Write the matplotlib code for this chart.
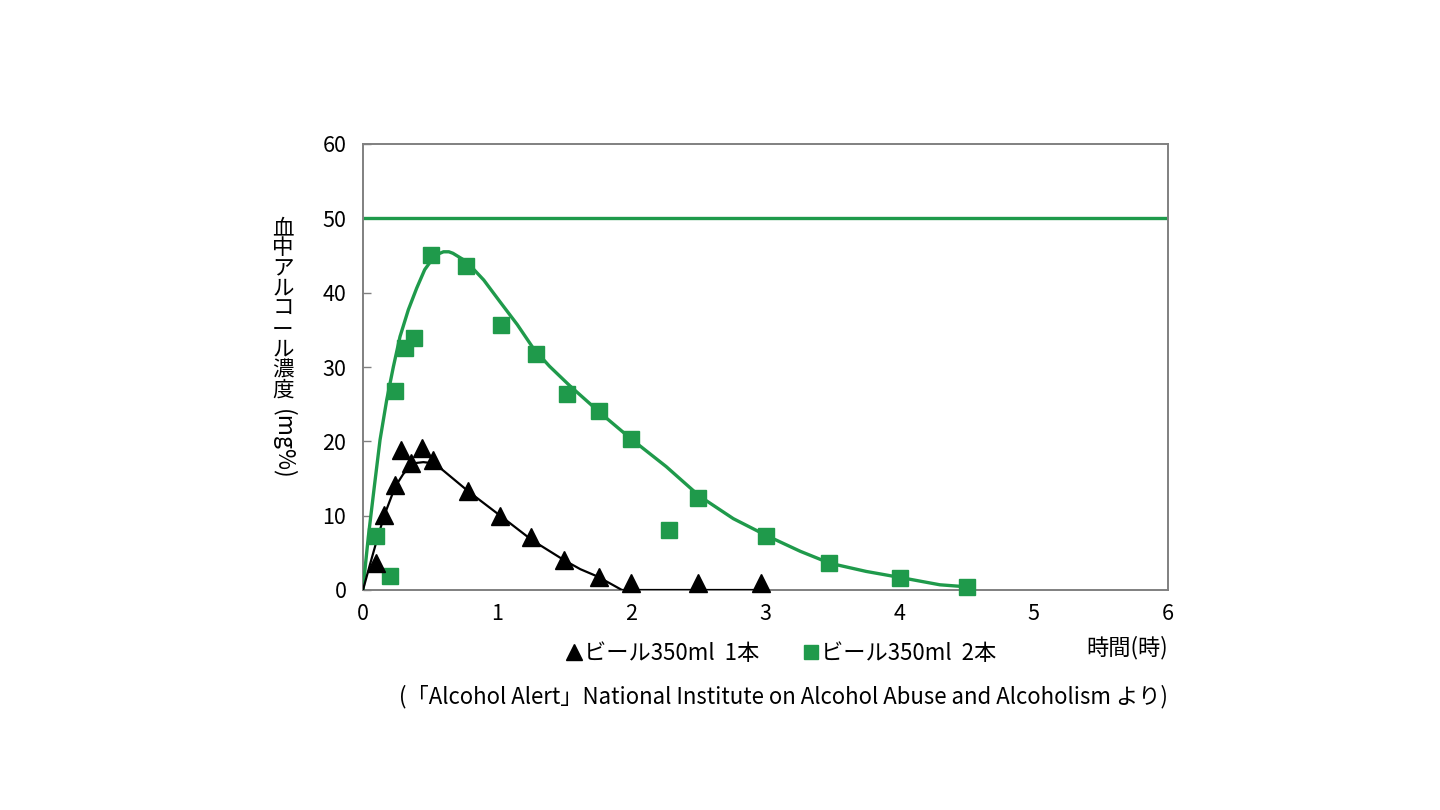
import numpy as np
import matplotlib
matplotlib.use('Agg')
import matplotlib.pyplot as plt

plt.rcParams['font.family'] = ['Noto Sans CJK JP', 'DejaVu Sans']

GREEN = '#1f9a4b'

# measured points: beer 350ml x1 (triangles)
one_x = [0.10, 0.16, 0.24, 0.28, 0.36, 0.44, 0.52, 0.78, 1.02, 1.25, 1.50, 1.76, 2.00, 2.50, 2.97]
one_y = [3.6, 10.1, 14.1, 18.8, 17.1, 19.1, 17.5, 13.3, 10.0, 7.1, 4.0, 1.8, 0.9, 0.9, 0.9]

# measured points: beer 350ml x2 (squares)
two_x = [0.10, 0.20, 0.24, 0.31, 0.38, 0.51, 0.77, 1.03, 1.29, 1.52, 1.76, 2.00, 2.28, 2.50, 3.00, 3.47, 4.00, 4.50]
two_y = [7.3, 1.9, 26.8, 32.6, 33.9, 45.1, 43.6, 35.7, 31.8, 26.4, 24.1, 20.3, 8.1, 12.4, 7.3, 3.6, 1.6, 0.4]

# fitted curves
curve1_x = [0, 0.05, 0.10, 0.16, 0.24, 0.30, 0.35, 0.40, 0.45, 0.50, 0.55, 0.67, 0.79, 1.03, 1.26, 1.50, 1.62, 1.75, 1.85, 1.93, 3.0]
curve1_y = [0, 3.3, 6.5, 10.1, 13.9, 15.6, 16.6, 17.1, 17.2, 17.1, 16.8, 15.0, 13.2, 9.9, 6.7, 4.0, 2.8, 1.8, 0.8, 0, 0]

curve2_x = [0, 0.02, 0.04, 0.085, 0.127, 0.177, 0.226, 0.276, 0.338, 0.40, 0.46, 0.52, 0.56, 0.60, 0.64,
            0.67, 0.77, 0.90, 1.02, 1.15, 1.27, 1.39, 1.54, 1.77, 2.00, 2.26, 2.51, 2.76, 3.01, 3.26,
            3.48, 3.75, 4.03, 4.30, 4.52]
curve2_y = [0, 3.7, 7.2, 14.0, 20.2, 25.6, 30.0, 34.1, 37.7, 40.6, 43.1, 44.6, 45.2, 45.5, 45.5,
            45.3, 44.2, 41.7, 38.8, 35.7, 32.5, 30.1, 27.5, 23.8, 20.3, 16.6, 12.6, 9.6, 7.3, 5.2,
            3.6, 2.5, 1.6, 0.7, 0.4]

limit_y = 50
x_ticks = [0, 1, 2, 3, 4, 5, 6]
y_ticks = [0, 10, 20, 30, 40, 50, 60]
ylabel_chars = ['血', '中', 'ア', 'ル', 'コ', 'ー', 'ル', '濃', '度']

fig = plt.figure(figsize=(14.4, 8.1), dpi=100)
ax = fig.add_axes([363/1440, 1-590/810, (1168-363)/1440, (590-144)/810])

ax.axhline(limit_y, color=GREEN, lw=2.4, zorder=2)
ax.plot(curve2_x, curve2_y, color=GREEN, lw=2.4, zorder=3, solid_joinstyle='round')
ax.plot(curve1_x, curve1_y, color='black', lw=1.6, zorder=3, solid_joinstyle='round')
h2, = ax.plot(two_x, two_y, 's', color=GREEN, ms=11.5, mec=GREEN, zorder=4, clip_on=False)
h1, = ax.plot(one_x, one_y, '^', color='black', ms=13, zorder=5, clip_on=False)

ax.set_xlim(0, 6)
ax.set_ylim(0, 60)
ax.set_xticks(x_ticks)
ax.set_yticks(y_ticks)
ax.tick_params(axis='x', length=0, pad=9, labelsize=15.5)
ax.tick_params(axis='y', direction='in', length=6, width=1, color='#808080', pad=12, labelsize=15.5)
for s in ax.spines.values():
    s.set_color('#808080')
    s.set_linewidth(1.4)

# vertical japanese y label
y0 = 228
for i, ch in enumerate(ylabel_chars):
    fig.text(283/1440, 1-(y0 + i*20.3)/810, ch, fontsize=15.5, ha='center', va='center')
fig.text(283/1440, 1-444/810, '(mg%)', fontsize=16.5, ha='center', va='center', rotation=-90)

ax.legend([h1, h2], ['ビール350ml  1本', 'ビール350ml  2本'], loc='center',
          bbox_to_anchor=(781/1440, 1-653/810), bbox_transform=fig.transFigure,
          ncol=2, frameon=False, fontsize=16, handlelength=0.7, handletextpad=0.1,
          columnspacing=2.0, markerscale=0.9)

fig.text(1168/1440, 1-648/810, '時間(時)', fontsize=16, ha='right', va='center')
fig.text(1168/1440, 1-697/810,
         '(「Alcohol Alert」National Institute on Alcohol Abuse and Alcoholism より)',
         fontsize=16, ha='right', va='center')

fig.savefig('out.png', dpi=100)
